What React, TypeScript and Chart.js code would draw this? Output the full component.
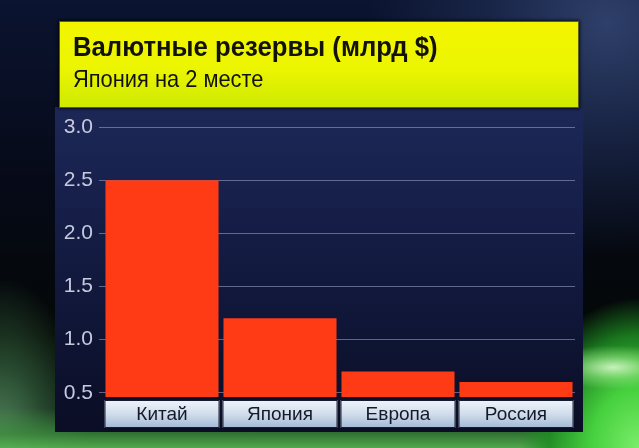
import React, { useEffect, useRef } from "react";
import { Chart, registerables } from "chart.js";

Chart.register(...registerables);

const categories = ["Китай", "Япония", "Европа", "Россия"];
const reserves = [2.5, 1.2, 0.7, 0.6];
const tickValues = [0.5, 1.0, 1.5, 2.0, 2.5, 3.0];
const titleText = "Валютные резервы (млрд $)";
const subtitleText = "Япония на 2 месте";

const SANS = "'Liberation Sans', Arial, sans-serif";

const panelPlugin = {
  id: "panelAndBoxes",
  beforeDraw(chart: any) {
    const ctx = chart.ctx as CanvasRenderingContext2D;
    const area = chart.chartArea;
    const pTop = 107;
    const pBottom = 432;
    const pLeft = 55;
    const pRight = 583;
    const g = ctx.createLinearGradient(0, pTop, 0, pBottom);
    g.addColorStop(0, "#1d2858");
    g.addColorStop(0.45, "#131b42");
    g.addColorStop(1, "#0a0d24");
    ctx.save();
    ctx.fillStyle = g;
    ctx.fillRect(pLeft, pTop, pRight - pLeft, pBottom - pTop);
    const meta = chart.getDatasetMeta(0);
    const bTop = area.bottom + 3;
    const bH = 28;
    meta.data.forEach((bar: any) => {
      const w = bar.width + 2;
      const left = bar.x - w / 2;
      const bg = ctx.createLinearGradient(0, bTop, 0, bTop + bH);
      bg.addColorStop(0, "#f0f5fb");
      bg.addColorStop(0.5, "#d0ddec");
      bg.addColorStop(1, "#a2b9d4");
      ctx.fillStyle = bg;
      ctx.fillRect(left, bTop, w, bH);
      ctx.strokeStyle = "#161c2c";
      ctx.lineWidth = 1;
      ctx.strokeRect(left + 0.5, bTop + 0.5, w - 1, bH - 1);
    });
    ctx.restore();
  },
};

export default function App() {
  const canvasRef = useRef<HTMLCanvasElement>(null);

  useEffect(() => {
    const canvas = canvasRef.current;
    if (!canvas) return;
    const chart = new Chart(canvas, {
      type: "bar",
      data: {
        labels: categories,
        datasets: [
          {
            data: reserves,
            backgroundColor: "#ff3b16",
            borderWidth: 0,
            categoryPercentage: 1,
            barPercentage: 0.958,
          },
        ],
      },
      options: {
        responsive: false,
        animation: false,
        devicePixelRatio: 1,
        layout: { padding: { left: 0, top: 127, right: 64, bottom: 15 } },
        plugins: {
          legend: { display: false },
          tooltip: { enabled: false },
          title: { display: false },
        },
        scales: {
          x: {
            grid: { display: false, drawTicks: false },
            border: { display: false },
            ticks: {
              color: "#15192a",
              padding: 6,
              font: { family: SANS, size: 19 },
            },
            afterFit: (scale: any) => {
              scale.height = 36;
            },
          },
          y: {
            min: 0.46,
            max: 3.0,
            afterBuildTicks: (axis: any) => {
              axis.ticks = tickValues.map((v) => ({ value: v }));
            },
            grid: {
              color: "rgba(160,170,205,0.55)",
              lineWidth: 1,
              drawTicks: true,
              tickLength: 4,
            },
            border: { display: false },
            ticks: {
              color: "#c6cadf",
              padding: 6,
              font: { family: SANS, size: 21 },
              callback: (v: any) => Number(v).toFixed(1),
            },
            afterFit: (scale: any) => {
              scale.width = 103;
            },
          },
        },
      },
      plugins: [panelPlugin],
    });
    return () => chart.destroy();
  }, []);

  return (
    <div
      style={{
        position: "fixed",
        left: 0,
        top: 0,
        width: 639,
        height: 448,
        overflow: "hidden",
        background: [
          "radial-gradient(ellipse 70px 22px at 96% 82%, rgba(225,255,210,0.85) 0%, rgba(160,240,140,0.5) 50%, rgba(0,0,0,0) 100%)",
          "radial-gradient(ellipse 120px 150px at 100% 100%, #7cee6a 0%, #46d03e 40%, rgba(30,140,35,0.85) 75%, rgba(0,0,0,0) 100%)",
          "linear-gradient(0deg, rgba(85,175,80,0.95) 0px, rgba(60,140,60,0.8) 14px, rgba(0,0,0,0) 40px)",
          "radial-gradient(ellipse 90px 170px at 0% 100%, rgba(95,150,105,0.9) 0%, rgba(60,110,70,0.6) 50%, rgba(0,0,0,0) 100%)",
          "radial-gradient(ellipse 240px 230px at 95% 5%, rgba(50,68,112,0.9) 0%, rgba(32,46,84,0.65) 50%, rgba(0,0,0,0) 100%)",
          "linear-gradient(180deg, #0b1430 0%, #060a18 40%, #040806 75%, #0b1a10 100%)",
        ].join(", "),
      }}
    >
      <canvas
        ref={canvasRef}
        width={639}
        height={448}
        style={{ position: "absolute", left: 0, top: 0, width: 639, height: 448 }}
      />
      <div
        style={{
          position: "absolute",
          left: 59,
          top: 21,
          width: 520,
          height: 87,
          background: "linear-gradient(180deg, #f4f500 0%, #ecf500 55%, #cdea00 100%)",
          boxShadow: "0 0 3px 1px rgba(0,0,0,0.7)",
          border: "1px solid #5a6010",
          boxSizing: "border-box",
        }}
      >
        <div
          style={{
            position: "absolute",
            left: 13,
            top: 11,
            whiteSpace: "nowrap",
            fontFamily: SANS,
            fontWeight: "bold",
            fontSize: 28,
            lineHeight: 1,
            color: "#121208",
            transform: "scaleX(0.918)",
            transformOrigin: "0 0",
          }}
        >
          {titleText}
        </div>
        <div
          style={{
            position: "absolute",
            left: 13,
            top: 45,
            whiteSpace: "nowrap",
            fontFamily: SANS,
            fontSize: 24,
            lineHeight: 1,
            color: "#121208",
            transform: "scaleX(0.91)",
            transformOrigin: "0 0",
          }}
        >
          {subtitleText}
        </div>
      </div>
    </div>
  );
}
